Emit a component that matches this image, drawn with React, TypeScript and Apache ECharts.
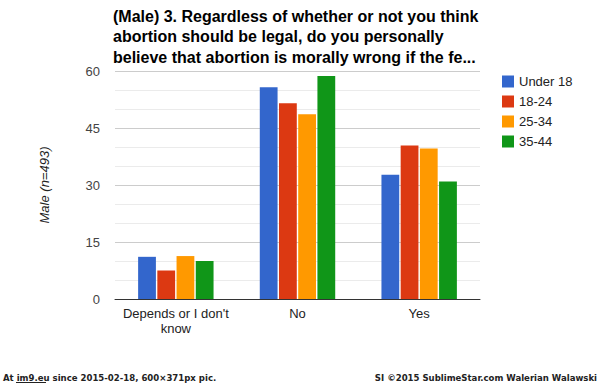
import React, { useEffect, useRef } from "react";
import * as echarts from "echarts";

const categories = ["Depends or I don't\nknow", "No", "Yes"];
const seriesNames = ["Under 18", "18-24", "25-34", "35-44"];
const under18 = [11.1, 55.7, 32.7];
const age18to24 = [7.5, 51.5, 40.4];
const age25to34 = [11.3, 48.6, 39.6];
const age35to44 = [10.0, 58.7, 30.9];
const colors = ["#3366cc", "#dc3912", "#ff9900", "#109618"];
const titleText =
  "(Male) 3. Regardless of whether or not you think\nabortion should be legal, do you personally\nbelieve that abortion is morally wrong if the fe...";

export default function App() {
  const ref = useRef<HTMLDivElement>(null);
  useEffect(() => {
    if (!ref.current) return;
    const chart = echarts.init(ref.current, undefined, { renderer: "svg" });
    const data = [under18, age18to24, age25to34, age35to44];
    chart.setOption({
      animation: false,
      color: colors,
      title: {
        text: titleText,
        left: 108,
        top: 1,
        textStyle: {
          fontFamily: "Liberation Sans, Arial, sans-serif",
          fontSize: 16,
          fontWeight: "bold",
          color: "#000",
          lineHeight: 20.5,
        },
      },
      legend: {
        orient: "vertical",
        left: 497,
        top: 70,
        icon: "rect",
        itemWidth: 12,
        itemHeight: 12,
        itemGap: 7,
        textStyle: {
          fontFamily: "Liberation Sans, Arial, sans-serif",
          fontSize: 13,
          color: "#222",
        },
        data: seriesNames,
      },
      grid: { left: 115, right: 120, top: 71, bottom: 84, containLabel: false },
      xAxis: {
        type: "category",
        data: categories,
        axisLine: { lineStyle: { color: "#333", width: 1 } },
        axisTick: { show: false },
        axisLabel: {
          interval: 0,
          fontFamily: "Liberation Sans, Arial, sans-serif",
          fontSize: 13,
          color: "#222",
          lineHeight: 15,
          margin: 7,
        },
      },
      yAxis: {
        type: "value",
        min: 0,
        max: 60,
        interval: 15,
        name: "Male (n=493)",
        nameLocation: "middle",
        nameGap: 64,
        nameRotate: 90,
        nameTextStyle: {
          fontFamily: "Liberation Sans, Arial, sans-serif",
          fontSize: 13,
          fontStyle: "italic",
          color: "#222",
        },
        axisLine: { show: false },
        axisTick: { show: false },
        axisLabel: {
          fontFamily: "Liberation Sans, Arial, sans-serif",
          fontSize: 13,
          color: "#444",
          margin: 15,
        },
        splitLine: { lineStyle: { color: "#cccccc", width: 1 } },
        minorSplitLine: { show: true, lineStyle: { color: "#ebebeb", width: 1 } },
        minorTick: { show: false, splitNumber: 3 },
      },
      series: seriesNames.map((name, i) => ({
        name,
        type: "bar",
        data: data[i],
        barGap: "8%",
        barCategoryGap: "38%",
      })),
      graphic: [
        {
          type: "text",
          left: 3,
          top: 372,
          style: {
            text: "At im9.eu since 2015-02-18, 600×371px pic.",
            fontFamily: "DejaVu Sans Condensed, DejaVu Sans",
            fontWeight: "bold",
            fontSize: 9.5,
            fill: "#222",
          },
        },
        {
          type: "line",
          shape: { x1: 16, y1: 382.5, x2: 46, y2: 382.5 },
          style: { stroke: "#222", lineWidth: 1 },
        },
        {
          type: "text",
          right: 3,
          top: 372,
          style: {
            text: "SI ©2015 SublimeStar.com Walerian Walawski",
            fontFamily: "DejaVu Sans Condensed, DejaVu Sans",
            fontWeight: "bold",
            fontSize: 9.5,
            fill: "#222",
          },
        },
      ],
    });
    return () => chart.dispose();
  }, []);
  return <div ref={ref} style={{ width: 600, height: 383, position: "absolute", left: 0, top: 0 }} />;
}
